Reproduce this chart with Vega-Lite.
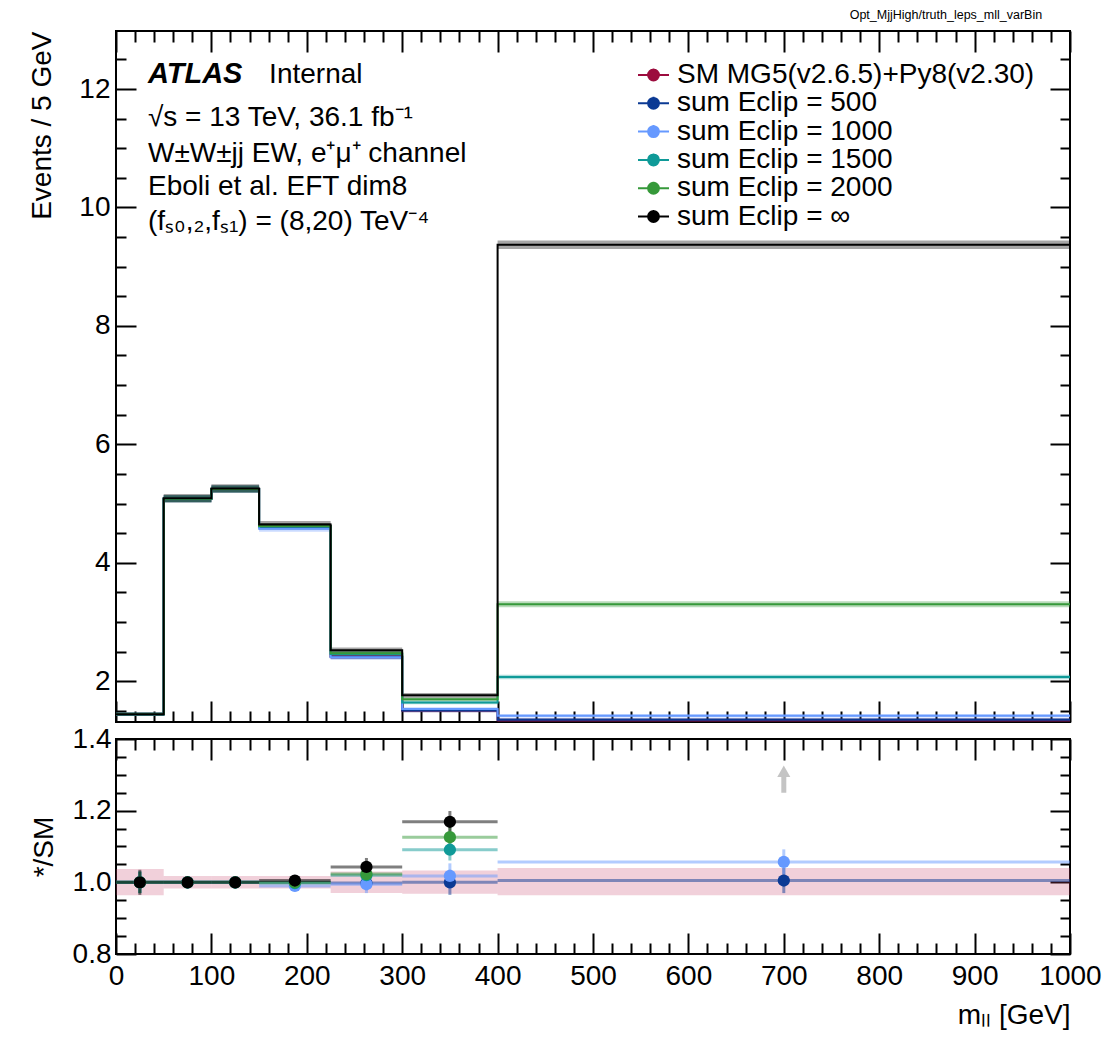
{
  "$schema": "https://vega.github.io/schema/vega-lite/v6.json",
  "padding": {"left": 27, "top": 8, "right": 10, "bottom": 5},
  "title": {"text": "Opt_MjjHigh/truth_leps_mll_varBin", "anchor": "end", "fontSize": 12.5, "fontWeight": "normal", "font": "Liberation Sans", "color": "black", "offset": 8, "dx": -60},
  "config": {
    "font": "Liberation Sans",
    "view": {"stroke": "black", "strokeWidth": 2},
    "axis": {"domain": false, "grid": false, "labelFont": "Liberation Sans", "labelFontSize": 28, "labelColor": "black", "titleFont": "Liberation Sans", "titleFontSize": 28, "titleFontWeight": "normal", "titleColor": "black", "tickColor": "black", "tickWidth": 2, "labelFlush": false, "labelBound": false}
  },
  "datasets": {
    "hist": [
      {"series": "SM MG5(v2.6.5)+Py8(v2.30)", "xlo": 0, "xhi": 50, "y": 1.44, "lo": 1.41, "hi": 1.47},
      {"series": "SM MG5(v2.6.5)+Py8(v2.30)", "xlo": 50, "xhi": 100, "y": 5.08, "lo": 5.02, "hi": 5.14},
      {"series": "SM MG5(v2.6.5)+Py8(v2.30)", "xlo": 100, "xhi": 150, "y": 5.245, "lo": 5.185, "hi": 5.305},
      {"series": "SM MG5(v2.6.5)+Py8(v2.30)", "xlo": 150, "xhi": 225, "y": 4.62, "lo": 4.57, "hi": 4.67},
      {"series": "SM MG5(v2.6.5)+Py8(v2.30)", "xlo": 225, "xhi": 300, "y": 2.415, "lo": 2.375, "hi": 2.455},
      {"series": "SM MG5(v2.6.5)+Py8(v2.30)", "xlo": 300, "xhi": 400, "y": 1.505, "lo": 1.475, "hi": 1.535},
      {"series": "SM MG5(v2.6.5)+Py8(v2.30)", "xlo": 400, "xhi": 1000, "y": 1.34, "lo": 1.31, "hi": 1.37},
      {"series": "sum Eclip = 500", "xlo": 0, "xhi": 50, "y": 1.44, "lo": 1.41, "hi": 1.47},
      {"series": "sum Eclip = 500", "xlo": 50, "xhi": 100, "y": 5.08, "lo": 5.02, "hi": 5.14},
      {"series": "sum Eclip = 500", "xlo": 100, "xhi": 150, "y": 5.245, "lo": 5.185, "hi": 5.305},
      {"series": "sum Eclip = 500", "xlo": 150, "xhi": 225, "y": 4.61, "lo": 4.56, "hi": 4.66},
      {"series": "sum Eclip = 500", "xlo": 225, "xhi": 300, "y": 2.41, "lo": 2.37, "hi": 2.45},
      {"series": "sum Eclip = 500", "xlo": 300, "xhi": 400, "y": 1.505, "lo": 1.475, "hi": 1.535},
      {"series": "sum Eclip = 500", "xlo": 400, "xhi": 1000, "y": 1.347, "lo": 1.317, "hi": 1.377},
      {"series": "sum Eclip = 1000", "xlo": 0, "xhi": 50, "y": 1.44, "lo": 1.41, "hi": 1.47},
      {"series": "sum Eclip = 1000", "xlo": 50, "xhi": 100, "y": 5.08, "lo": 5.02, "hi": 5.14},
      {"series": "sum Eclip = 1000", "xlo": 100, "xhi": 150, "y": 5.245, "lo": 5.185, "hi": 5.305},
      {"series": "sum Eclip = 1000", "xlo": 150, "xhi": 225, "y": 4.575, "lo": 4.525, "hi": 4.625},
      {"series": "sum Eclip = 1000", "xlo": 225, "xhi": 300, "y": 2.405, "lo": 2.365, "hi": 2.445},
      {"series": "sum Eclip = 1000", "xlo": 300, "xhi": 400, "y": 1.53, "lo": 1.5, "hi": 1.56},
      {"series": "sum Eclip = 1000", "xlo": 400, "xhi": 1000, "y": 1.415, "lo": 1.385, "hi": 1.445},
      {"series": "sum Eclip = 1500", "xlo": 0, "xhi": 50, "y": 1.44, "lo": 1.41, "hi": 1.47},
      {"series": "sum Eclip = 1500", "xlo": 50, "xhi": 100, "y": 5.08, "lo": 5.02, "hi": 5.14},
      {"series": "sum Eclip = 1500", "xlo": 100, "xhi": 150, "y": 5.245, "lo": 5.185, "hi": 5.305},
      {"series": "sum Eclip = 1500", "xlo": 150, "xhi": 225, "y": 4.61, "lo": 4.56, "hi": 4.66},
      {"series": "sum Eclip = 1500", "xlo": 225, "xhi": 300, "y": 2.46, "lo": 2.42, "hi": 2.5},
      {"series": "sum Eclip = 1500", "xlo": 300, "xhi": 400, "y": 1.64, "lo": 1.61, "hi": 1.67},
      {"series": "sum Eclip = 1500", "xlo": 400, "xhi": 1000, "y": 2.07, "lo": 2.03, "hi": 2.11},
      {"series": "sum Eclip = 2000", "xlo": 0, "xhi": 50, "y": 1.44, "lo": 1.41, "hi": 1.47},
      {"series": "sum Eclip = 2000", "xlo": 50, "xhi": 100, "y": 5.08, "lo": 5.02, "hi": 5.14},
      {"series": "sum Eclip = 2000", "xlo": 100, "xhi": 150, "y": 5.245, "lo": 5.185, "hi": 5.305},
      {"series": "sum Eclip = 2000", "xlo": 150, "xhi": 225, "y": 4.62, "lo": 4.57, "hi": 4.67},
      {"series": "sum Eclip = 2000", "xlo": 225, "xhi": 300, "y": 2.47, "lo": 2.43, "hi": 2.51},
      {"series": "sum Eclip = 2000", "xlo": 300, "xhi": 400, "y": 1.695, "lo": 1.665, "hi": 1.725},
      {"series": "sum Eclip = 2000", "xlo": 400, "xhi": 1000, "y": 3.3, "lo": 3.25, "hi": 3.35},
      {"series": "sum Eclip = ∞", "xlo": 0, "xhi": 50, "y": 1.44, "lo": 1.41, "hi": 1.47},
      {"series": "sum Eclip = ∞", "xlo": 50, "xhi": 100, "y": 5.09, "lo": 5.02, "hi": 5.16},
      {"series": "sum Eclip = ∞", "xlo": 100, "xhi": 150, "y": 5.255, "lo": 5.185, "hi": 5.325},
      {"series": "sum Eclip = ∞", "xlo": 150, "xhi": 225, "y": 4.645, "lo": 4.585, "hi": 4.705},
      {"series": "sum Eclip = ∞", "xlo": 225, "xhi": 300, "y": 2.52, "lo": 2.47, "hi": 2.57},
      {"series": "sum Eclip = ∞", "xlo": 300, "xhi": 400, "y": 1.76, "lo": 1.72, "hi": 1.8},
      {"series": "sum Eclip = ∞", "xlo": 400, "xhi": 1000, "y": 9.37, "lo": 9.3, "hi": 9.44}
    ],
    "ratio": [
      {"series": "sum Eclip = 500", "xlo": 0, "xhi": 50, "xc": 25, "r": 1.0, "rlo": 0.97, "rhi": 1.03},
      {"series": "sum Eclip = 500", "xlo": 50, "xhi": 100, "xc": 75, "r": 1.0, "rlo": 0.988, "rhi": 1.012},
      {"series": "sum Eclip = 500", "xlo": 100, "xhi": 150, "xc": 125, "r": 1.0, "rlo": 0.988, "rhi": 1.012},
      {"series": "sum Eclip = 500", "xlo": 150, "xhi": 225, "xc": 187.5, "r": 1.0, "rlo": 0.985, "rhi": 1.015},
      {"series": "sum Eclip = 500", "xlo": 225, "xhi": 300, "xc": 262.5, "r": 0.998, "rlo": 0.978, "rhi": 1.018},
      {"series": "sum Eclip = 500", "xlo": 300, "xhi": 400, "xc": 350, "r": 1.0, "rlo": 0.965, "rhi": 1.035},
      {"series": "sum Eclip = 500", "xlo": 400, "xhi": 1000, "xc": 700, "r": 1.005, "rlo": 0.97, "rhi": 1.04},
      {"series": "sum Eclip = 1000", "xlo": 0, "xhi": 50, "xc": 25, "r": 1.0, "rlo": 0.97, "rhi": 1.03},
      {"series": "sum Eclip = 1000", "xlo": 50, "xhi": 100, "xc": 75, "r": 1.0, "rlo": 0.988, "rhi": 1.012},
      {"series": "sum Eclip = 1000", "xlo": 100, "xhi": 150, "xc": 125, "r": 1.0, "rlo": 0.988, "rhi": 1.012},
      {"series": "sum Eclip = 1000", "xlo": 150, "xhi": 225, "xc": 187.5, "r": 0.99, "rlo": 0.975, "rhi": 1.005},
      {"series": "sum Eclip = 1000", "xlo": 225, "xhi": 300, "xc": 262.5, "r": 0.995, "rlo": 0.97, "rhi": 1.02},
      {"series": "sum Eclip = 1000", "xlo": 300, "xhi": 400, "xc": 350, "r": 1.018, "rlo": 0.983, "rhi": 1.053},
      {"series": "sum Eclip = 1000", "xlo": 400, "xhi": 1000, "xc": 700, "r": 1.057, "rlo": 1.022, "rhi": 1.092},
      {"series": "sum Eclip = 1500", "xlo": 0, "xhi": 50, "xc": 25, "r": 1.0, "rlo": 0.97, "rhi": 1.03},
      {"series": "sum Eclip = 1500", "xlo": 50, "xhi": 100, "xc": 75, "r": 1.0, "rlo": 0.988, "rhi": 1.012},
      {"series": "sum Eclip = 1500", "xlo": 100, "xhi": 150, "xc": 125, "r": 1.0, "rlo": 0.988, "rhi": 1.012},
      {"series": "sum Eclip = 1500", "xlo": 150, "xhi": 225, "xc": 187.5, "r": 0.998, "rlo": 0.983, "rhi": 1.013},
      {"series": "sum Eclip = 1500", "xlo": 225, "xhi": 300, "xc": 262.5, "r": 1.02, "rlo": 0.998, "rhi": 1.042},
      {"series": "sum Eclip = 1500", "xlo": 300, "xhi": 400, "xc": 350, "r": 1.091, "rlo": 1.061, "rhi": 1.121},
      {"series": "sum Eclip = 1500", "xlo": 400, "xhi": 1000, "xc": 700, "r": 1.54, "rlo": 1.5, "rhi": 1.58},
      {"series": "sum Eclip = 2000", "xlo": 0, "xhi": 50, "xc": 25, "r": 1.0, "rlo": 0.97, "rhi": 1.03},
      {"series": "sum Eclip = 2000", "xlo": 50, "xhi": 100, "xc": 75, "r": 1.0, "rlo": 0.988, "rhi": 1.012},
      {"series": "sum Eclip = 2000", "xlo": 100, "xhi": 150, "xc": 125, "r": 1.0, "rlo": 0.988, "rhi": 1.012},
      {"series": "sum Eclip = 2000", "xlo": 150, "xhi": 225, "xc": 187.5, "r": 1.0, "rlo": 0.985, "rhi": 1.015},
      {"series": "sum Eclip = 2000", "xlo": 225, "xhi": 300, "xc": 262.5, "r": 1.023, "rlo": 1.001, "rhi": 1.045},
      {"series": "sum Eclip = 2000", "xlo": 300, "xhi": 400, "xc": 350, "r": 1.126, "rlo": 1.096, "rhi": 1.156},
      {"series": "sum Eclip = 2000", "xlo": 400, "xhi": 1000, "xc": 700, "r": 2.46, "rlo": 2.4, "rhi": 2.52},
      {"series": "sum Eclip = ∞", "xlo": 0, "xhi": 50, "xc": 25, "r": 1.0, "rlo": 0.965, "rhi": 1.035},
      {"series": "sum Eclip = ∞", "xlo": 50, "xhi": 100, "xc": 75, "r": 1.0, "rlo": 0.988, "rhi": 1.012},
      {"series": "sum Eclip = ∞", "xlo": 100, "xhi": 150, "xc": 125, "r": 1.0, "rlo": 0.988, "rhi": 1.012},
      {"series": "sum Eclip = ∞", "xlo": 150, "xhi": 225, "xc": 187.5, "r": 1.005, "rlo": 0.99, "rhi": 1.02},
      {"series": "sum Eclip = ∞", "xlo": 225, "xhi": 300, "xc": 262.5, "r": 1.043, "rlo": 1.018, "rhi": 1.068},
      {"series": "sum Eclip = ∞", "xlo": 300, "xhi": 400, "xc": 350, "r": 1.169, "rlo": 1.139, "rhi": 1.199},
      {"series": "sum Eclip = ∞", "xlo": 400, "xhi": 1000, "xc": 700, "r": 6.99, "rlo": 6.9, "rhi": 7.08}
    ],
    "smband": [
      {"xlo": 0, "xhi": 50, "lo": 0.964, "hi": 1.037},
      {"xlo": 50, "xhi": 100, "lo": 0.983, "hi": 1.018},
      {"xlo": 100, "xhi": 150, "lo": 0.983, "hi": 1.018},
      {"xlo": 150, "xhi": 225, "lo": 0.983, "hi": 1.018},
      {"xlo": 225, "xhi": 300, "lo": 0.97, "hi": 1.03},
      {"xlo": 300, "xhi": 400, "lo": 0.968, "hi": 1.033},
      {"xlo": 400, "xhi": 1000, "lo": 0.964, "hi": 1.04}
    ],
    "arrow": [
      {"x": 700, "ylo": 1.25, "yhi": 1.3, "ytip": 1.31}
    ]
  },
  "bounds": "flush",
  "spacing": 17,
  "resolve": {"legend": {"color": "independent"}},
  "vconcat": [
    {
      "width": 954,
      "height": 691,
      "layer": [
        {
          "layer": [
            {
              "data": {"name": "hist"},
              "mark": {"type": "rect", "opacity": 0.35},
              "encoding": {
                "x": {"field": "xlo", "type": "quantitative", "scale": {"domain": [0, 1000], "nice": false},
                  "axis": {"orient": "bottom", "labels": false, "title": null,
                    "values": [0,100,200,300,400,500,600,700,800,900,1000], "tickSize": -21}},
                "x2": {"field": "xhi"},
                "y": {"field": "lo", "type": "quantitative", "scale": {"domain": [1.31, 12.98], "nice": false, "zero": false},
                  "axis": {"orient": "left", "title": "Events / 5 GeV", "titleAnchor": "end", "titlePadding": 22, "labelPadding": 26,
                    "values": [2,4,6,8,10,12], "format": "d", "tickSize": -20}},
                "y2": {"field": "hi"},
                "color": {"field": "series", "type": "nominal",
                  "scale": {"domain": ["SM MG5(v2.6.5)+Py8(v2.30)", "sum Eclip = 500", "sum Eclip = 1000", "sum Eclip = 1500", "sum Eclip = 2000", "sum Eclip = ∞"],
                    "range": ["#9c0c3e", "#0b3a94", "#6699ff", "#0f9a98", "#36993a", "#000000"]},
                  "legend": {"orient": "none", "legendX": 521, "legendY": 30, "title": null, "padding": 0,
                    "symbolType": "M-1,0L1,0M0,-0.42L0,0.42M0.35,0A0.35,0.35,0,1,1,-0.35,0A0.35,0.35,0,1,1,0.35,0Z",
                    "symbolSize": 961, "symbolStrokeWidth": 2, "symbolOpacity": 1,
                    "labelFont": "Liberation Sans", "labelFontSize": 28, "labelColor": "black", "labelOffset": 7, "labelLimit": 0,
                    "clipHeight": 28, "rowPadding": 0.3,
                    "encode": {"symbols": {"update": {"fill": {"scale": "color", "field": "value"}, "stroke": {"scale": "color", "field": "value"}, "opacity": {"value": 1}, "fillOpacity": {"value": 1}, "strokeOpacity": {"value": 1}}}}}}
              }
            },
            {
              "data": {"name": "hist"},
              "transform": [{"fold": ["xlo", "xhi"], "as": ["edge", "xv"]}],
              "mark": {"type": "line", "strokeWidth": 2},
              "encoding": {
                "x": {"field": "xv", "type": "quantitative"},
                "y": {"field": "y", "type": "quantitative"},
                "color": {"field": "series", "type": "nominal"},
                "order": [{"field": "xv", "type": "quantitative"}, {"field": "edge", "type": "nominal"}]
              }
            },
            {
              "data": {"values": [{}]},
              "mark": {"type": "text", "align": "left", "baseline": "alphabetic", "fontSize": 29, "fontWeight": "bold", "fontStyle": "italic", "font": "Liberation Sans", "color": "black"},
              "encoding": {"x": {"datum": 33.5, "type": "quantitative"}, "y": {"datum": 12.107, "type": "quantitative"}, "text": {"value": "ATLAS"}}
            },
            {
              "data": {"values": [{}]},
              "mark": {"type": "text", "align": "left", "baseline": "alphabetic", "fontSize": 28, "font": "Liberation Sans", "color": "black"},
              "encoding": {"x": {"datum": 160.5, "type": "quantitative"}, "y": {"datum": 12.107, "type": "quantitative"}, "text": {"value": "Internal"}}
            },
            {
              "data": {"values": [{}]},
              "mark": {"type": "text", "align": "left", "baseline": "alphabetic", "fontSize": 28, "font": "Liberation Sans", "color": "black"},
              "encoding": {"x": {"datum": 33.5, "type": "quantitative"}, "y": {"datum": 11.375, "type": "quantitative"}, "text": {"value": "√s = 13 TeV, 36.1 fb⁻¹"}}
            },
            {
              "data": {"values": [{}]},
              "mark": {"type": "text", "align": "left", "baseline": "alphabetic", "fontSize": 28, "font": "Liberation Sans", "color": "black"},
              "encoding": {"x": {"datum": 33.5, "type": "quantitative"}, "y": {"datum": 10.772, "type": "quantitative"}, "text": {"value": "W±W±jj EW, e⁺μ⁺ channel"}}
            },
            {
              "data": {"values": [{}]},
              "mark": {"type": "text", "align": "left", "baseline": "alphabetic", "fontSize": 28, "font": "Liberation Sans", "color": "black"},
              "encoding": {"x": {"datum": 33.5, "type": "quantitative"}, "y": {"datum": 10.209, "type": "quantitative"}, "text": {"value": "Eboli et al. EFT dim8"}}
            },
            {
              "data": {"values": [{}]},
              "mark": {"type": "text", "align": "left", "baseline": "alphabetic", "fontSize": 28, "font": "Liberation Sans", "color": "black"},
              "encoding": {"x": {"datum": 33.5, "type": "quantitative"}, "y": {"datum": 9.618, "type": "quantitative"}, "text": {"value": "(fₛ₀,₂,fₛ₁) = (8,20) TeV⁻⁴"}}
            }
          ]
        },
        {
          "data": {"name": "hist"},
          "mark": {"type": "point", "opacity": 0},
          "encoding": {
            "x": {"field": "xlo", "type": "quantitative", "scale": {"domain": [0, 1000], "nice": false},
              "axis": {"orient": "top", "labels": false, "title": null,
                "values": [0,20,40,60,80,100,120,140,160,180,200,220,240,260,280,300,320,340,360,380,400,420,440,460,480,500,520,540,560,580,600,620,640,660,680,700,720,740,760,780,800,820,840,860,880,900,920,940,960,980,1000],
                "tickSize": {"condition": {"test": "datum.value % 100 === 0", "value": -21}, "value": -11}}},
            "y": {"field": "y", "type": "quantitative", "scale": {"domain": [1.31, 12.98], "nice": false, "zero": false},
              "axis": {"orient": "right", "labels": false, "title": null,
                "values": [1.5,2,2.5,3,3.5,4,4.5,5,5.5,6,6.5,7,7.5,8,8.5,9,9.5,10,10.5,11,11.5,12,12.5],
                "tickSize": {"condition": {"test": "datum.value % 2 === 0", "value": -20}, "value": -10}}}
          }
        },
        {
          "data": {"name": "hist"},
          "mark": {"type": "point", "opacity": 0},
          "encoding": {
            "x": {"field": "xhi", "type": "quantitative", "scale": {"domain": [0, 1000], "nice": false},
              "axis": {"orient": "bottom", "labels": false, "title": null, "tickSize": -11,
                "values": [20,40,60,80,120,140,160,180,220,240,260,280,320,340,360,380,420,440,460,480,520,540,560,580,620,640,660,680,720,740,760,780,820,840,860,880,920,940,960,980]}},
            "y": {"field": "hi", "type": "quantitative", "scale": {"domain": [1.31, 12.98], "nice": false, "zero": false},
              "axis": {"orient": "left", "labels": false, "title": null, "tickSize": -10,
                "values": [1.5,2.5,3,3.5,4.5,5,5.5,6.5,7,7.5,8.5,9,9.5,10.5,11,11.5,12.5]}}
          }
        }
      ],
      "resolve": {"axis": {"x": "independent", "y": "independent"}}
    },
    {
      "width": 954,
      "height": 215,
      "layer": [
        {
          "layer": [
            {
              "data": {"name": "smband"},
              "mark": {"type": "rect", "color": "#c8456c", "opacity": 0.25},
              "encoding": {
                "x": {"field": "xlo", "type": "quantitative", "scale": {"domain": [0, 1000], "nice": false},
                  "axis": {"orient": "bottom", "title": "mₗₗ [GeV]", "titleAnchor": "end", "titlePadding": 11, "labelPadding": 29,
                    "values": [0,100,200,300,400,500,600,700,800,900,1000], "format": "d", "tickSize": -21}},
                "x2": {"field": "xhi"},
                "y": {"field": "lo", "type": "quantitative", "scale": {"domain": [0.8, 1.4], "nice": false, "zero": false},
                  "axis": {"orient": "left", "title": "*/SM", "titlePadding": 14, "labelPadding": 25,
                    "values": [0.8,1.0,1.2,1.4], "format": ".1f", "tickSize": -20}},
                "y2": {"field": "hi"}
              }
            },
            {
              "data": {"name": "ratio"},
              "transform": [{"filter": "datum.r <= 1.4"}],
              "mark": {"type": "rule", "strokeWidth": 3, "opacity": 0.5},
              "encoding": {
                "x": {"field": "xlo", "type": "quantitative"},
                "x2": {"field": "xhi"},
                "y": {"field": "r", "type": "quantitative"},
                "color": {"field": "series", "type": "nominal", "legend": null}
              }
            },
            {
              "data": {"name": "ratio"},
              "transform": [{"filter": "datum.r <= 1.4"}],
              "mark": {"type": "rule", "strokeWidth": 3, "opacity": 0.5},
              "encoding": {
                "x": {"field": "xc", "type": "quantitative"},
                "y": {"field": "rlo", "type": "quantitative"},
                "y2": {"field": "rhi"},
                "color": {"field": "series", "type": "nominal", "legend": null}
              }
            },
            {
              "data": {"name": "ratio"},
              "transform": [{"filter": "datum.r <= 1.4"}],
              "mark": {"type": "point", "filled": true, "size": 150, "opacity": 1},
              "encoding": {
                "x": {"field": "xc", "type": "quantitative"},
                "y": {"field": "r", "type": "quantitative"},
                "color": {"field": "series", "type": "nominal", "legend": null}
              }
            },
            {
              "data": {"name": "arrow"},
              "mark": {"type": "rule", "strokeWidth": 5, "color": "#c4c4c4"},
              "encoding": {
                "x": {"field": "x", "type": "quantitative"},
                "y": {"field": "ylo", "type": "quantitative"},
                "y2": {"field": "yhi"}
              }
            },
            {
              "data": {"name": "arrow"},
              "mark": {"type": "point", "shape": "triangle-up", "filled": true, "size": 170, "color": "#c4c4c4", "opacity": 1},
              "encoding": {
                "x": {"field": "x", "type": "quantitative"},
                "y": {"field": "ytip", "type": "quantitative"}
              }
            }
          ]
        },
        {
          "data": {"name": "smband"},
          "mark": {"type": "point", "opacity": 0},
          "encoding": {
            "x": {"field": "xlo", "type": "quantitative", "scale": {"domain": [0, 1000], "nice": false},
              "axis": {"orient": "top", "labels": false, "title": null,
                "values": [0,20,40,60,80,100,120,140,160,180,200,220,240,260,280,300,320,340,360,380,400,420,440,460,480,500,520,540,560,580,600,620,640,660,680,700,720,740,760,780,800,820,840,860,880,900,920,940,960,980,1000],
                "tickSize": {"condition": {"test": "datum.value % 100 === 0", "value": -21}, "value": -11}}},
            "y": {"field": "lo", "type": "quantitative", "scale": {"domain": [0.8, 1.4], "nice": false, "zero": false},
              "axis": {"orient": "right", "labels": false, "title": null,
                "values": [0.8,0.85,0.9,0.95,1.0,1.05,1.1,1.15,1.2,1.25,1.3,1.35,1.4],
                "tickSize": {"condition": {"test": "round(datum.value * 100) % 20 === 0", "value": -20}, "value": -10}}}
          }
        },
        {
          "data": {"name": "smband"},
          "mark": {"type": "point", "opacity": 0},
          "encoding": {
            "x": {"field": "xhi", "type": "quantitative", "scale": {"domain": [0, 1000], "nice": false},
              "axis": {"orient": "bottom", "labels": false, "title": null, "tickSize": -11,
                "values": [20,40,60,80,120,140,160,180,220,240,260,280,320,340,360,380,420,440,460,480,520,540,560,580,620,640,660,680,720,740,760,780,820,840,860,880,920,940,960,980]}},
            "y": {"field": "hi", "type": "quantitative", "scale": {"domain": [0.8, 1.4], "nice": false, "zero": false},
              "axis": {"orient": "left", "labels": false, "title": null, "tickSize": -10,
                "values": [0.85,0.9,0.95,1.05,1.1,1.15,1.25,1.3,1.35]}}
          }
        }
      ],
      "resolve": {"axis": {"x": "independent", "y": "independent"}}
    }
  ]
}
